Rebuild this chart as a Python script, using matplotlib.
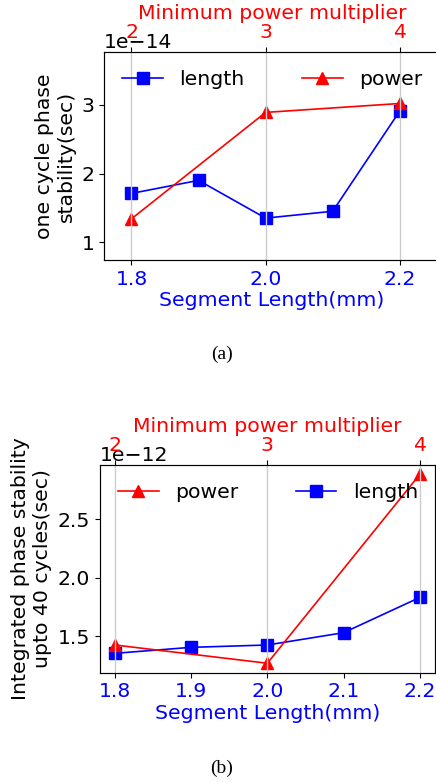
import matplotlib
matplotlib.use("Agg")
import matplotlib.pyplot as plt

# ---- data ----
seg_len = [1.8, 1.9, 2.0, 2.1, 2.2]
pow_x = [1.8, 2.0, 2.2]
pow_labels = ["2", "3", "4"]

a_length = [1.71e-14, 1.90e-14, 1.35e-14, 1.45e-14, 2.91e-14]
a_power = [1.34e-14, 2.89e-14, 3.02e-14]

b_length = [1.355e-12, 1.406e-12, 1.426e-12, 1.531e-12, 1.832e-12]
b_power = [1.426e-12, 1.27e-12, 2.883e-12]

W, H = 436, 782
FS = 14.7
fig = plt.figure(figsize=(W / 100, H / 100), dpi=100)

def make(rect, length, power, ylabel, xticks, xlim, ylim, order):
    ax = fig.add_axes(rect)
    l1, = ax.plot(seg_len, length, color='blue', marker='s', markersize=8, lw=1.2, label='length')
    l2, = ax.plot(pow_x, power, color='red', marker='^', markersize=8, lw=1.2, label='power')
    ax.set_xticks(xticks)
    ax.set_xticklabels([f"{v:.1f}" for v in xticks], color='blue', fontsize=FS)
    ax.set_xlabel('Segment Length(mm)', color='blue', fontsize=FS, labelpad=2)
    ax.set_ylabel(ylabel, fontsize=FS)
    ax.tick_params(axis='y', labelsize=FS)
    ax.yaxis.get_offset_text().set_fontsize(FS)
    if xlim:
        ax.set_xlim(*xlim)
    if ylim:
        ax.set_ylim(*ylim)
    ax2 = ax.twiny()
    ax2.set_xlim(ax.get_xlim())
    ax2.set_xticks(pow_x)
    ax2.set_xticklabels(pow_labels, color='red', fontsize=FS)
    ax2.tick_params(axis='x', pad=3.5)
    ax2.set_xlabel('Minimum power multiplier', color='red', fontsize=FS, labelpad=3)
    ax2.grid(True, axis='x', color='#cccccc', lw=1.0)
    handles = [l1, l2] if order == 'lp' else [l2, l1]
    ax2.legend(handles, [h.get_label() for h in handles], ncol=2, frameon=False,
               fontsize=FS, loc='upper left', bbox_to_anchor=(0.0, 1.0),
               columnspacing=2.8, handlelength=2.0)
    for s in ax.spines.values():
        s.set_color('#555555')
    return ax, ax2

make([104 / W, 1 - 260 / H, 336 / W, 208 / H], a_length, a_power,
     'one cycle phase\nstability(sec)', [1.8, 2.0, 2.2], (1.759, 2.26), (0.74e-14, 3.77e-14), 'lp')
make([99.7 / W, 1 - 672.7 / H, 335.3 / W, 207.7 / H], b_length, b_power,
     'Integrated phase stability\nupto 40 cycles(sec)', seg_len, None, None, 'pl')

fig.text(222 / W, 1 - 354 / H, '(a)', family='Liberation Serif', fontsize=14, ha='center', va='center')
fig.text(222 / W, 1 - 768 / H, '(b)', family='Liberation Serif', fontsize=14, ha='center', va='center')

fig.savefig('out.png', dpi=100)
